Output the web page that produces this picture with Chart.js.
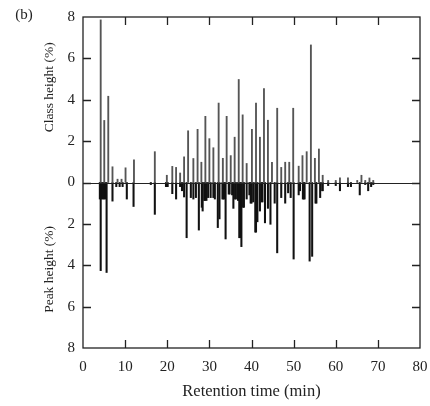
<!DOCTYPE html>
<html>
<head>
<meta charset="utf-8">
<script src="https://cdn.jsdelivr.net/npm/chart.js@4.4.1/dist/chart.umd.min.js"></script>
<style>
  html, body { margin: 0; padding: 0; background: #fff; }
  #wrap { width: 430px; height: 406px; }
</style>
</head>
<body>
<div id="wrap"><canvas id="myChart" width="430" height="406"></canvas></div>
<script>
// class heights (upper half): retention time (min) and height (%)
const classTimes = [4.2, 5.05, 6.0, 7.0, 8.2, 9.15, 10.1, 12.1, 17.05, 19.9, 21.2, 22.1, 23.06, 24.0, 24.95,
  26.2, 27.2, 28.1, 29.05, 30.0, 30.95, 32.2, 33.2, 34.1, 35.07, 36.0, 36.97, 37.9, 38.85,
  40.1, 41.07, 42.0, 42.96, 43.9, 44.86, 46.1, 47.06, 48.0, 48.96, 49.9, 51.2, 52.1, 53.1,
  54.1, 55.05, 56.0, 56.9, 58.2, 60.0, 61.0, 62.9, 65.1, 66.1, 67.0, 68.0, 68.9];
const classHeights = [7.86, 3.0, 4.17, 0.76, 0.16, 0.16, 0.71, 1.1, 1.49, 0.35, 0.78, 0.73, 0.46, 1.24, 2.5,
  1.16, 2.57, 0.98, 3.2, 2.12, 1.68, 3.84, 1.17, 3.2, 1.3, 2.19, 4.98, 3.27, 0.92,
  2.57, 3.84, 2.19, 4.54, 3.01, 0.98, 3.59, 0.73, 0.98, 0.98, 3.59, 0.79, 1.3, 1.49,
  6.65, 1.17, 1.62, 0.35, 0.1, 0.1, 0.22, 0.22, 0.1, 0.35, 0.1, 0.22, 0.1];

// peak heights (lower half), drawn downward
const peakTimes = [4.0, 4.2, 4.4, 4.7, 5.0, 5.3, 5.6, 7.0, 7.9, 8.7, 9.4, 10.4, 12.0, 16.1, 17.05, 19.7, 19.9, 20.1,
  21.2, 22.1, 23.05, 23.5, 24.0, 24.6, 25.6, 26.2, 26.8, 27.5, 28.2, 28.4, 28.8, 29.0, 29.3, 29.7, 30.3, 30.95,
  31.3, 32.0, 32.4, 33.1, 33.3, 33.5, 33.85, 34.6, 34.8, 35.4, 35.7, 36.1, 36.3, 36.8, 37.1, 37.3, 37.6, 38.0, 38.2,
  38.85, 39.5, 39.8, 40.0, 40.4, 40.9, 41.07, 41.4, 42.0, 42.4, 42.6, 43.2, 43.9, 44.5, 45.5, 46.1, 47.06,
  48.0, 48.7, 49.3, 50.0, 51.2, 51.5, 52.2, 52.4, 52.6, 53.8, 54.4, 55.2, 55.4, 56.3, 56.8, 56.9,
  58.2, 60.0, 61.0, 62.9, 63.6, 65.7, 67.0, 67.7, 68.4, 68.9];
const peakHeights = [0.8, 4.26, 0.8, 0.8, 0.8, 0.8, 4.35, 0.9, 0.2, 0.2, 0.2, 0.8, 1.16, 0.1, 1.54, 0.2, 0.2, 0.2,
  0.54, 0.8, 0.2, 0.4, 0.7, 2.67, 0.73, 0.8, 0.73, 2.3, 1.2, 1.38, 0.87, 0.87, 0.87, 0.73, 0.73, 0.73,
  0.8, 2.18, 1.76, 0.8, 0.8, 0.8, 2.73, 0.56, 0.56, 0.6, 1.25, 0.8, 0.8, 0.87, 2.67, 2.67, 3.1, 1.2, 1.2,
  0.8, 0.6, 1.0, 1.0, 0.94, 2.4, 2.4, 1.9, 1.38, 0.94, 0.94, 1.95, 1.25, 2.02, 1.0, 3.4, 0.73,
  1.0, 0.5, 0.73, 3.7, 0.6, 0.4, 0.8, 0.8, 0.8, 3.8, 3.57, 1.0, 1.0, 0.73, 0.4, 0.4,
  0.15, 0.15, 0.4, 0.2, 0.2, 0.6, 0.1, 0.4, 0.2, 0.1];

const xTicks = [0, 10, 20, 30, 40, 50, 60, 70, 80];
const yTicks = [-8, -6, -4, -2, 0, 2, 4, 6, 8];

const serif = '"Liberation Serif", "DejaVu Serif", serif';
const ink = '#222';

// frame, inward ticks, zero line and the extra labels
const framePlugin = {
  id: 'frame',
  afterDatasetsDraw(chart) {
    const { ctx, chartArea: a, scales: { x, y } } = chart;
    ctx.save();
    ctx.strokeStyle = ink;
    ctx.lineWidth = 1.3;
    ctx.strokeRect(a.left, a.top, a.right - a.left, a.bottom - a.top);
    ctx.lineWidth = 1;
    const y0 = Math.round(y.getPixelForValue(0)) + 0.5;
    ctx.beginPath();
    ctx.moveTo(a.left, y0);
    ctx.lineTo(a.right, y0);
    ctx.stroke();
    ctx.lineWidth = 1.3;
    ctx.beginPath();
    xTicks.slice(1, -1).forEach(v => {
      const px = Math.round(x.getPixelForValue(v)) + 0.5;
      ctx.moveTo(px, a.bottom); ctx.lineTo(px, a.bottom - 8);
      ctx.moveTo(px, a.top); ctx.lineTo(px, a.top + 8);
    });
    yTicks.slice(1, -1).forEach(v => {
      const py = Math.round(y.getPixelForValue(v)) + 0.5;
      ctx.moveTo(a.left, py); ctx.lineTo(a.left + 8, py);
      ctx.moveTo(a.right, py); ctx.lineTo(a.right - 8, py);
    });
    ctx.stroke();

    ctx.fillStyle = ink;
    ctx.textAlign = 'center';
    ctx.textBaseline = 'middle';
    ctx.font = '15px ' + serif;
    ctx.fillText('(b)', 24, 15);
    ctx.font = '13.5px ' + serif;
    ctx.translate(49, y.getPixelForValue(4.6));
    ctx.rotate(-Math.PI / 2);
    ctx.fillText('Class height (%)', 0, 0);
    ctx.restore();
    ctx.save();
    ctx.fillStyle = ink;
    ctx.font = '13.5px ' + serif;
    ctx.textAlign = 'center';
    ctx.textBaseline = 'middle';
    ctx.translate(49, y.getPixelForValue(-4.2));
    ctx.rotate(-Math.PI / 2);
    ctx.fillText('Peak height (%)', 0, 0);
    ctx.restore();
  }
};

const ctx = document.getElementById('myChart').getContext('2d');
new Chart(ctx, {
  type: 'bar',
  data: {
    datasets: [
      {
        label: 'Class height',
        data: classTimes.map((t, i) => ({ x: t, y: classHeights[i] })),
        backgroundColor: '#555',
        barThickness: 1.2,
        grouped: false,
      },
      {
        label: 'Peak height',
        data: peakTimes.map((t, i) => ({ x: t, y: -peakHeights[i] })),
        backgroundColor: '#111',
        barThickness: 1.4,
        grouped: false,
      },
    ],
  },
  options: {
    responsive: false,
    animation: false,
    maintainAspectRatio: false,
    layout: { padding: { top: 11, right: 0, left: 0, bottom: 0 } },
    plugins: { legend: { display: false }, tooltip: { enabled: false } },
    scales: {
      x: {
        type: 'linear',
        min: 0, max: 80,
        offset: false,
        afterFit: s => { s.height = 58; s.paddingRight = 10; },
        afterBuildTicks: s => { s.ticks = xTicks.map(v => ({ value: v })); },
        grid: { display: false, drawTicks: false },
        border: { display: false },
        ticks: { color: ink, font: { family: serif, size: 15 }, padding: 10, maxRotation: 0 },
        title: { display: true, text: 'Retention time (min)', color: ink, font: { family: serif, size: 16.5 }, padding: { top: 6 } },
      },
      y: {
        min: -8, max: 8,
        afterFit: s => { s.width = 83; },
        afterBuildTicks: s => { s.ticks = yTicks.map(v => ({ value: v })); },
        grid: { display: false, drawTicks: false },
        border: { display: false },
        ticks: { color: ink, font: { family: serif, size: 15 }, padding: 8, callback: v => Math.abs(v) },
      },
    },
  },
  plugins: [framePlugin],
});
</script>
</body>
</html>
